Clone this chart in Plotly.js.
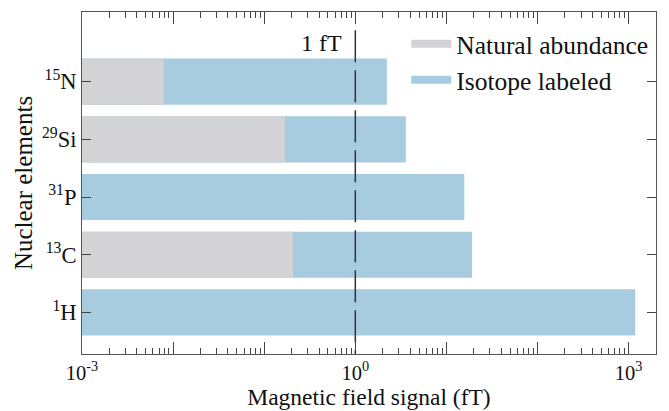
<!DOCTYPE html>
<html>
<head>
<meta charset="utf-8">
<script src="https://cdn.plot.ly/plotly-3.0.1.min.js"></script>
<style>html,body{margin:0;padding:0;background:#fff;}#chart{width:669px;height:411px;}</style>
</head>
<body>
<div id="chart"></div>
<script>
// Data
const elements = ["<sup>1</sup>H", "<sup>13</sup>C", "<sup>31</sup>P", "<sup>29</sup>Si", "<sup>15</sup>N"];
const isotopeLabeled = [1180, 19.1, 15.7, 3.58, 2.22];
const naturalAbundance = [null, 0.207, null, 0.169, 0.00785];
const xTickVals = [1e-3, 1e-2, 1e-1, 1, 10, 100, 1000];
const xTickText = ["10<sup>-3</sup>", "", "", "10<sup>0</sup>", "", "", "10<sup>3</sup>"];
const referenceLine = 1;

const colNatural = "#d3d3d5";
const colIsotope = "#a7cbdf";
const font = "Liberation Serif";

const yIdx = elements.map((_, i) => i);

const minorVals = [];
for (let e = -3; e <= 3; e++) {
  for (let m = 2; m <= 9; m++) {
    const v = m * Math.pow(10, e);
    if (v < Math.pow(10, 3.3)) minorVals.push(v);
  }
}

const traces = [
  {type: "bar", orientation: "h", y: yIdx, x: isotopeLabeled, width: 0.8,
   marker: {color: colIsotope, line: {width: 0}}, showlegend: false, hoverinfo: "x"},
  {type: "bar", orientation: "h", y: yIdx, x: naturalAbundance, width: 0.8,
   marker: {color: colNatural, line: {width: 0}}, showlegend: false, hoverinfo: "x"},
  {type: "scatter", mode: "lines", x: [null], y: [null], name: "Natural abundance",
   line: {color: colNatural, width: 8}},
  {type: "scatter", mode: "lines", x: [null], y: [null], name: "Isotope labeled",
   line: {color: colIsotope, width: 8}}
];

const layout = {
  width: 669, height: 411,
  margin: {l: 82, r: 13, t: 12, b: 57},
  paper_bgcolor: "#fff", plot_bgcolor: "#fff",
  barmode: "overlay",
  font: {family: font, color: "#111", size: 20},
  showlegend: true,
  legend: {x: 0.565, y: 0.975, xanchor: "left", yanchor: "top",
           bgcolor: "rgba(0,0,0,0)", font: {family: font, size: 25.5, color: "#111"},
           itemwidth: 40, tracegroupgap: 0},
  xaxis: {
    type: "log", range: [-3, 3.3],
    tickmode: "array", tickvals: xTickVals, ticktext: xTickText,
    ticks: "inside", ticklen: 12, tickwidth: 1, tickcolor: "#444",
    minor: {tickmode: "array", tickvals: minorVals, ticks: "inside", ticklen: 6, tickwidth: 1, tickcolor: "#444"},
    showline: true, linecolor: "#555", linewidth: 1, mirror: "allticks",
    showgrid: false, zeroline: false,
    ticklabelstandoff: 0,
    tickfont: {family: font, size: 20.5, color: "#111"},
    title: {text: "Magnetic field signal (fT)", font: {family: font, size: 23.5, color: "#111"}, standoff: 1}
  },
  yaxis: {
    range: [-0.72, 5.206],
    tickmode: "array", tickvals: yIdx, ticktext: elements,
    ticks: "inside", ticklen: 9, tickwidth: 1, tickcolor: "#444",
    showline: true, linecolor: "#555", linewidth: 1, mirror: "allticks",
    showgrid: false, zeroline: false,
    tickfont: {family: font, size: 22.5, color: "#111"},
    title: {text: "Nuclear elements", font: {family: font, size: 25, color: "#111"}, standoff: 2}
  },
  shapes: [
    {type: "line", xref: "x", yref: "paper", x0: referenceLine, x1: referenceLine, y0: 0.947, y1: 0,
     line: {color: "#333", width: 1.5, dash: "32px,8px"}}
  ],
  annotations: [
    {xref: "x", yref: "paper", x: Math.log10(referenceLine), y: 0.91, xanchor: "right", yanchor: "middle",
     xshift: -11, text: "1 fT", showarrow: false, font: {family: font, size: 24, color: "#111"}}
  ]
};

Plotly.newPlot("chart", traces, layout, {displayModeBar: false, staticPlot: true});
</script>
</body>
</html>
